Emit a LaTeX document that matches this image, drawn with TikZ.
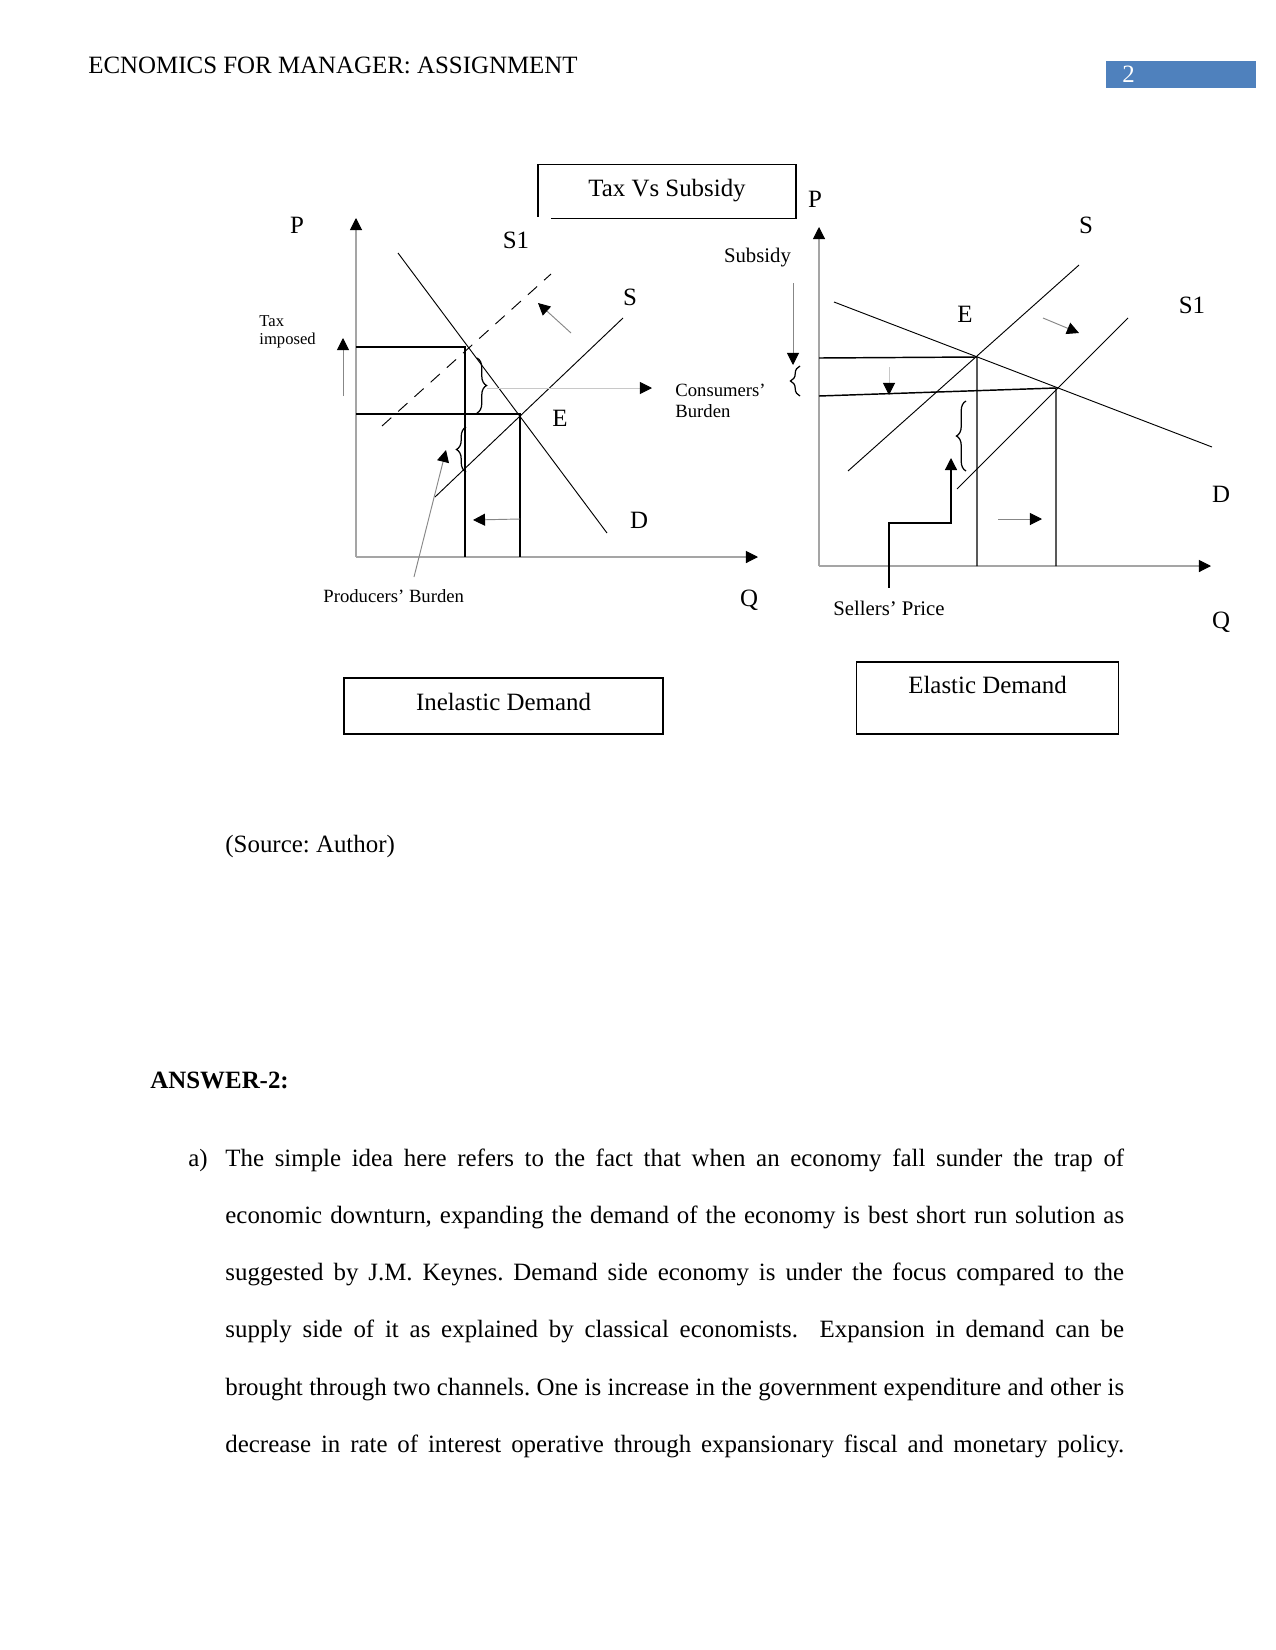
\documentclass[tikz,border=0pt]{standalone}
\usepackage{fontspec}
\setmainfont{Liberation Serif}
\usepackage{xcolor}
\usepackage{tikz}
\usetikzlibrary{arrows.meta, positioning, calc, decorations.pathreplacing}
\definecolor{HdrBlue}{RGB}{79, 129, 189}
\definecolor{AxisGray}{RGB}{165, 165, 165}
\definecolor{ShaftGray}{RGB}{135, 135, 135}
\definecolor{PaleGray}{RGB}{200, 200, 200}
\frenchspacing

\tikzset{
  tip/.style={-{Triangle[length=5.8pt, width=5.8pt, color=black]}},
  axis/.style={draw=AxisGray, line width=0.5pt, tip},
  curve/.style={draw=black, line width=0.45pt},
  guide/.style={draw=black, line width=0.7pt},
  shiftarrow/.style={draw=ShaftGray, line width=0.45pt, tip},
  bracebar/.style={draw=black, line width=0.6pt, decorate, decoration={brace, amplitude=4.6pt}},
  boxed/.style={inner xsep=0pt, inner ysep=0pt, anchor=base, font=\fontsize{12}{14}\selectfont},
  biglbl/.style={inner sep=0pt, anchor=base, font=\fontsize{12}{14}\selectfont},
  notelbl/.style={inner sep=0pt, anchor=base west, align=left, font=\fontsize{9}{10}\selectfont},
  bodytext/.style={inner sep=0pt, anchor=base west, font=\fontsize{12}{14}\selectfont},
}

\begin{document}
\begin{tikzpicture}[x=0.169333mm, y=-0.169333mm]
  \useasboundingbox[fill=white] (0,0) rectangle (1275,1650);

  % running head
  \node[bodytext] (hdr) at (88,73) {ECNOMICS FOR MANAGER: ASSIGNMENT};
  \node[fill=HdrBlue, text=white, anchor=base west, text width=56.6pt, align=left,
        inner xsep=7.7pt, inner ysep=0pt, text height=10.1pt, text depth=2.9pt,
        font=\fontsize{12}{14}\selectfont] (pgno) at (1106,82) {2};

  % title
  \node[boxed, minimum width=124pt, text height=14.9pt, text depth=10.6pt] (tvs) at (667,196) {Tax Vs Subsidy};
  \draw[line width=0.6pt] ([xshift=6.2pt]tvs.south west) -- (tvs.south east) -- (tvs.north east)
    -- (tvs.north west) -- ([yshift=0.8pt]tvs.south west);

  % ---- inelastic demand (tax) ----
  \coordinate (O1) at (356,557);
  \coordinate (E1) at (520,414);
  \coordinate (T1) at (465,347);
  \draw[axis] (O1) -- (356,218);
  \draw[axis] (O1) -- (758,557);

  \draw[curve] (398,253) -- (607,533);
  \draw[curve] (435,497) -- (623,318);
  \draw[curve, dash pattern=on 6pt off 4.5pt] (382,426) -- (551,274);

  \draw[guide] (O1 |- T1) -- (T1) -- (T1 |- O1);
  \draw[guide] (O1 |- E1) -- (E1) -- (E1 |- O1);

  \draw[bracebar] (477,358) -- (477,413);
  \draw[bracebar] (466,472) -- (466,427);
  \coordinate (cbtip) at (487,388);
  \coordinate (pbtip) at (446,450);

  \draw[shiftarrow] (571,333) -- (538,303);
  \draw[shiftarrow] (343,396) -- (343,338);
  \draw[shiftarrow] (520,519) -- (473,520);
  \draw[shiftarrow, draw=PaleGray] (cbtip) -- (652,388);
  \draw[shiftarrow] (414,577) -- (pbtip);

  \node[biglbl] (p1) at (297,233) {P};
  \node[biglbl] (s1a) at (516,248) {S1};
  \node[biglbl] (s1) at (630,305) {S};
  \node[biglbl] (e1) at (560,426) {E};
  \node[biglbl] (d1) at (639,528) {D};
  \node[biglbl] (q1) at (749,606) {Q};
  \node[notelbl, font=\fontsize{8}{8.6}\selectfont] (taxlbl) at (259,344) {Tax\\imposed};
  \node[notelbl] (cblbl) at (675,417) {Consumers’\\Burden};
  \node[notelbl] (pblbl) at (323,602) {Producers’ Burden};

  \node[boxed, minimum width=153.7pt, text height=15.4pt, text depth=11.5pt, draw, line width=0.6pt] (inel) at (503.5,710) {Inelastic Demand};

  % ---- elastic demand (subsidy) ----
  \coordinate (O2) at (819,566);
  \coordinate (E2) at (977,357);
  \coordinate (E3) at (1056,388);
  \draw[axis] (O2) -- (819,227);
  \draw[axis] (O2) -- (1211,566);

  \draw[curve] (834,302) -- (1212,447);
  \draw[curve] (848,471) -- (1079,265);
  \draw[curve] (957,489) -- (1128,318);

  \draw[guide] (819,358) -- (E2) -- (E2 |- O2);
  \draw[guide] (819,396) -- (E3) -- (E3 |- O2);

  \draw[bracebar] (800,396) -- (800,366);
  \draw[bracebar] (966,471) -- (966,401);
  \coordinate (sptip) at (951,458);

  \draw[shiftarrow] (793,283) -- (793,365);
  \draw[shiftarrow, draw=PaleGray] (889,367) -- (889,395);
  \draw[shiftarrow] (1043,318) -- (1079,333);
  \draw[shiftarrow] (998,519) -- (1042,519);

  \node[biglbl] (p2) at (815,207) {P};
  \node[biglbl] (s2) at (1086,233) {S};
  \node[biglbl] (s2a) at (1192,313) {S1};
  \node[biglbl] (e2) at (965,322) {E};
  \node[biglbl] (d2) at (1221,502) {D};
  \node[biglbl] (q2) at (1221,628) {Q};
  \node[inner sep=0pt, anchor=base, font=\fontsize{10}{12}\selectfont] (sublbl) at (757.5,262) {Subsidy};
  \node[inner sep=0pt, anchor=base, font=\fontsize{10}{12}\selectfont] (splbl) at (889,615) {Sellers’ Price};
  \draw[line width=0.6pt, tip] ([yshift=6pt]splbl.north) |- ($(sptip)+(0,65)$) -- (sptip);

  \node[boxed, minimum width=126pt, text height=14.9pt, text depth=19.7pt, draw, line width=0.6pt] (elas) at (987.5,693) {Elastic Demand};

  % ---- body ----
  \node[bodytext] (src) at (225,852) {(Source: Author)};
  \node[bodytext, font=\fontsize{12}{14}\selectfont\bfseries] (ans) at (150,1088) {ANSWER-2:};
  \node[bodytext] (item) at (188,1166) {a)};
  \node[bodytext, text width=433pt, align=justify, font=\fontsize{12}{27.6}\selectfont] (para) at (225,1166)
    {\parfillskip=0pt The simple idea here refers to the fact that when an economy fall sunder the trap of\linebreak
     economic downturn, expanding the demand of the economy is best short run solution as\linebreak
     suggested by J.M. Keynes. Demand side economy is under the focus compared to the\linebreak
     supply side of it as explained by classical economists.\ \ Expansion in demand can be\linebreak
     brought through two channels. One is increase in the government expenditure and other is\linebreak
     decrease in rate of interest operative through expansionary fiscal and monetary policy.\par};
\end{tikzpicture}
\end{document}
